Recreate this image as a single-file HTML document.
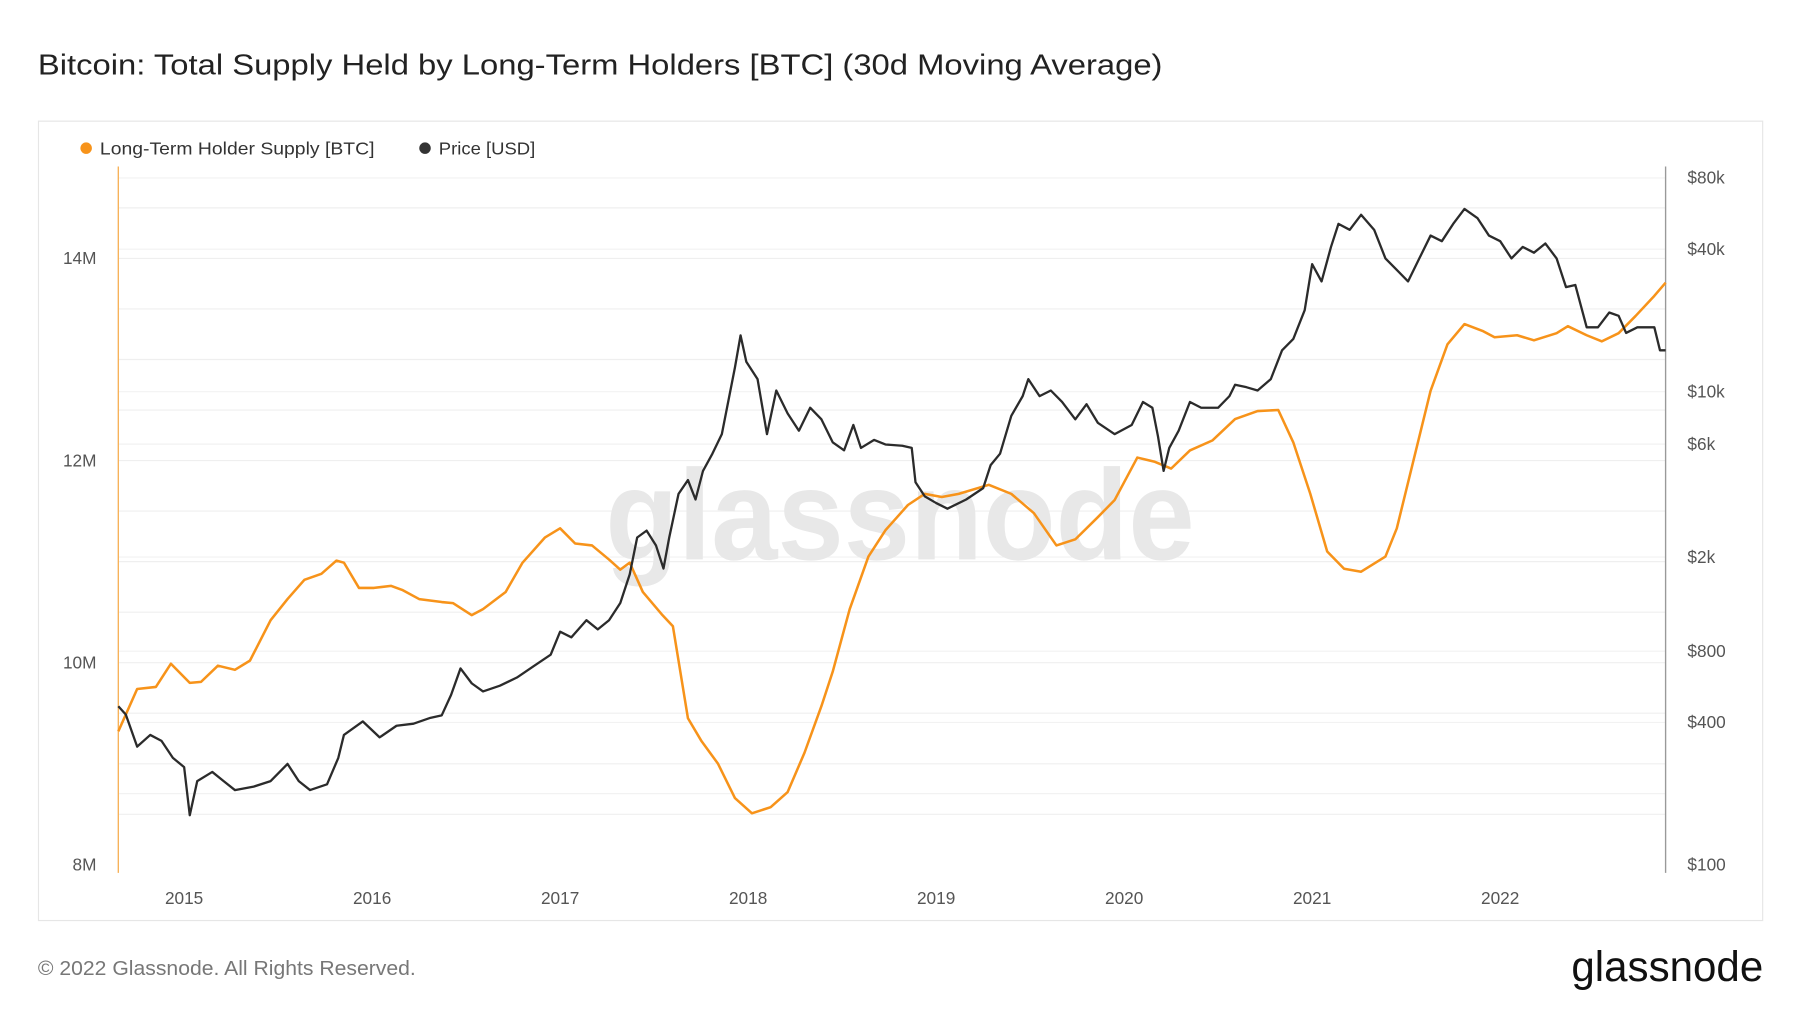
<!DOCTYPE html>
<html><head><meta charset="utf-8"><style>
html,body{margin:0;padding:0;background:#fff;}
svg{display:block;font-family:"Liberation Sans",sans-serif;}
</style></head><body>
<svg id="c" width="1800" height="1013" viewBox="0 0 1567 882" preserveAspectRatio="none" xmlns="http://www.w3.org/2000/svg">
<text x="33" y="65" font-size="25" fill="#222" textLength="979" lengthAdjust="spacingAndGlyphs">Bitcoin: Total Supply Held by Long-Term Holders [BTC] (30d Moving Average)</text>
<rect x="33.5" y="105.5" width="1501" height="696" fill="none" stroke="#e6e6e6"/>
<g>
<circle cx="75" cy="129" r="5" fill="#f7931a"/>
<text x="87" y="134.5" font-size="15.5" fill="#333" textLength="239" lengthAdjust="spacingAndGlyphs">Long-Term Holder Supply [BTC]</text>
<circle cx="370" cy="129" r="5" fill="#333"/>
<text x="382" y="134.5" font-size="15.5" fill="#333" textLength="84" lengthAdjust="spacingAndGlyphs">Price [USD]</text>
</g>
<g id="grid"></g>
<text x="527" y="487" font-size="112" fill="#e8e8e8" font-weight="bold" textLength="513" lengthAdjust="spacingAndGlyphs">glassnode</text>
<g id="axes"></g>
<g id="series"></g>
<text x="33" y="849" font-size="17.5" fill="#777" textLength="329" lengthAdjust="spacingAndGlyphs">© 2022 Glassnode. All Rights Reserved.</text>
<text x="1368" y="854" font-size="37" fill="#111" textLength="167" lengthAdjust="spacingAndGlyphs">glassnode</text>
</svg>
<script>
const lthDates=[2014.65,2014.75,2014.85,2014.93,2015.03,2015.09,2015.18,2015.27,2015.35,2015.46,2015.55,2015.64,2015.73,2015.81,2015.85,2015.93,2016.01,2016.10,2016.16,2016.25,2016.37,2016.43,2016.53,2016.59,2016.71,2016.80,2016.92,2017.00,2017.08,2017.17,2017.26,2017.32,2017.37,2017.44,2017.54,2017.60,2017.68,2017.75,2017.84,2017.93,2018.02,2018.12,2018.21,2018.30,2018.39,2018.45,2018.54,2018.64,2018.73,2018.85,2018.94,2019.03,2019.12,2019.28,2019.40,2019.52,2019.64,2019.74,2019.86,2019.95,2020.07,2020.16,2020.25,2020.35,2020.47,2020.59,2020.71,2020.82,2020.90,2020.99,2021.08,2021.17,2021.26,2021.39,2021.45,2021.54,2021.63,2021.72,2021.81,2021.91,2021.97,2022.09,2022.18,2022.30,2022.36,2022.46,2022.54,2022.63,2022.72,2022.82,2022.88];
const lthSupplyM=[9.32,9.74,9.76,9.99,9.80,9.81,9.97,9.93,10.02,10.42,10.63,10.82,10.88,11.01,10.99,10.74,10.74,10.76,10.72,10.63,10.60,10.59,10.47,10.53,10.70,10.99,11.24,11.33,11.18,11.16,11.02,10.92,10.99,10.70,10.48,10.36,9.45,9.23,9.00,8.66,8.51,8.57,8.72,9.11,9.57,9.91,10.53,11.05,11.31,11.56,11.67,11.64,11.67,11.76,11.67,11.48,11.16,11.22,11.44,11.61,12.03,11.99,11.92,12.10,12.20,12.41,12.49,12.50,12.18,11.67,11.10,10.93,10.90,11.05,11.33,12.01,12.69,13.15,13.35,13.28,13.22,13.24,13.19,13.26,13.33,13.24,13.18,13.26,13.43,13.63,13.76];
const priceDates=[2014.65,2014.69,2014.75,2014.82,2014.88,2014.94,2015.00,2015.03,2015.07,2015.15,2015.21,2015.27,2015.37,2015.46,2015.55,2015.61,2015.67,2015.76,2015.82,2015.85,2015.95,2016.04,2016.13,2016.22,2016.31,2016.37,2016.42,2016.47,2016.53,2016.59,2016.68,2016.77,2016.86,2016.95,2017.00,2017.06,2017.14,2017.20,2017.26,2017.32,2017.37,2017.41,2017.46,2017.51,2017.55,2017.58,2017.63,2017.68,2017.72,2017.76,2017.81,2017.86,2017.90,2017.93,2017.96,2017.99,2018.05,2018.10,2018.15,2018.21,2018.27,2018.33,2018.39,2018.45,2018.51,2018.56,2018.60,2018.67,2018.73,2018.82,2018.87,2018.89,2018.94,2019.00,2019.06,2019.16,2019.25,2019.29,2019.34,2019.40,2019.46,2019.49,2019.55,2019.61,2019.67,2019.74,2019.80,2019.86,2019.95,2020.04,2020.10,2020.15,2020.18,2020.21,2020.24,2020.29,2020.35,2020.41,2020.50,2020.56,2020.59,2020.65,2020.71,2020.78,2020.84,2020.90,2020.96,2021.00,2021.05,2021.10,2021.14,2021.20,2021.26,2021.33,2021.39,2021.45,2021.51,2021.57,2021.63,2021.69,2021.75,2021.81,2021.88,2021.94,2022.00,2022.06,2022.12,2022.18,2022.24,2022.30,2022.35,2022.40,2022.46,2022.52,2022.58,2022.63,2022.67,2022.73,2022.82,2022.85,2022.88];
const priceUsd=[468,432,316,354,334,283,259,162,226,247,226,207,214,226,267,226,207,219,283,354,404,346,387,395,418,428,523,676,585,541,572,619,692,773,967,915,1081,989,1081,1279,1690,2417,2587,2237,1788,2417,3698,4227,3499,4624,5467,6610,9570,12650,17300,13370,11300,6610,10110,8090,6840,8550,7640,6110,5650,7230,5780,6250,5980,5910,5780,4140,3610,3380,3200,3499,3910,4890,5467,7910,9570,11300,9570,10110,9040,7640,8850,7390,6610,7230,9040,8550,6470,4624,5780,6840,9040,8550,8550,9570,10690,10450,10110,11300,14960,16710,22100,34600,29240,40900,51200,48300,55900,48300,36560,32700,29240,36560,45700,43250,51200,59200,54100,45700,43250,36560,40900,38650,42270,36560,27660,28250,18700,18700,21600,20900,17700,18700,18700,14960,14960];
const leftTicks=[8,10,12,14];
const leftTickLabels=["8M","10M","12M","14M"];
const rightTicks=[100,400,800,2000,6000,10000,40000,80000];
const rightTickLabels=["$100","$400","$800","$2k","$6k","$10k","$40k","$80k"];
const yearTicks=[2015,2016,2017,2018,2019,2020,2021,2022];

const NS="http://www.w3.org/2000/svg";
const X0=103,X1=1450,T0=2014.65,T1=2022.88,YB=753,PT=145,PB=760;
const xS=t=>X0+(t-T0)/(T1-T0)*(X1-X0);
const yL=v=>YB-(v-8)/2*176;
const yR=p=>YB-Math.log10(p/100)*206;
function mk(tag,attrs,parent){const e=document.createElementNS(NS,tag);for(const k in attrs)e.setAttribute(k,attrs[k]);parent.appendChild(e);return e;}
const grid=document.getElementById('grid'),axes=document.getElementById('axes'),series=document.getElementById('series');
[8.5,9,9.5,10,10.5,11,11.5,12,12.5,13,13.5,14,14.5].forEach(v=>{const l=mk('line',{x1:X0,x2:X1,y1:yL(v),y2:yL(v),stroke:'#efefef'},grid);

});
[200,400,800,2000,6000,10000,40000,80000].forEach(p=>{const l=mk('line',{x1:X0,x2:X1,y1:yR(p),y2:yR(p),stroke:'#f2f2f2'},grid);

});
const la=mk('line',{x1:X0,x2:X0,y1:PT,y2:PB,stroke:'#f7b25a','stroke-width':1.2},axes);


const ra=mk('line',{x1:X1,x2:X1,y1:PT,y2:PB,stroke:'#999','stroke-width':1.2},axes);


leftTicks.forEach((v,i)=>{const t=mk('text',{x:84,y:yL(v)+5,'font-size':15,fill:'#555','text-anchor':'end'},axes);t.textContent=leftTickLabels[i];

});
rightTicks.forEach((p,i)=>{const t=mk('text',{x:1469,y:yR(p)+5,'font-size':15,fill:'#555'},axes);t.textContent=rightTickLabels[i];

});
yearTicks.forEach(y=>{const t=mk('text',{x:xS(y),y:787,'font-size':15,fill:'#555','text-anchor':'middle'},axes);t.textContent=String(y);

});
const lp=lthDates.map((d,i)=>xS(d).toFixed(1)+','+yL(lthSupplyM[i]).toFixed(1)).join(' ');
const ll=mk('polyline',{points:lp,fill:'none',stroke:'#f7931a','stroke-width':2.2,'stroke-linejoin':'round'},series);


const pp=priceDates.map((d,i)=>xS(d).toFixed(1)+','+yR(priceUsd[i]).toFixed(1)).join(' ');
const pl=mk('polyline',{points:pp,fill:'none',stroke:'#2b2b2b','stroke-width':2,'stroke-linejoin':'round'},series);


</script>
</body></html>
